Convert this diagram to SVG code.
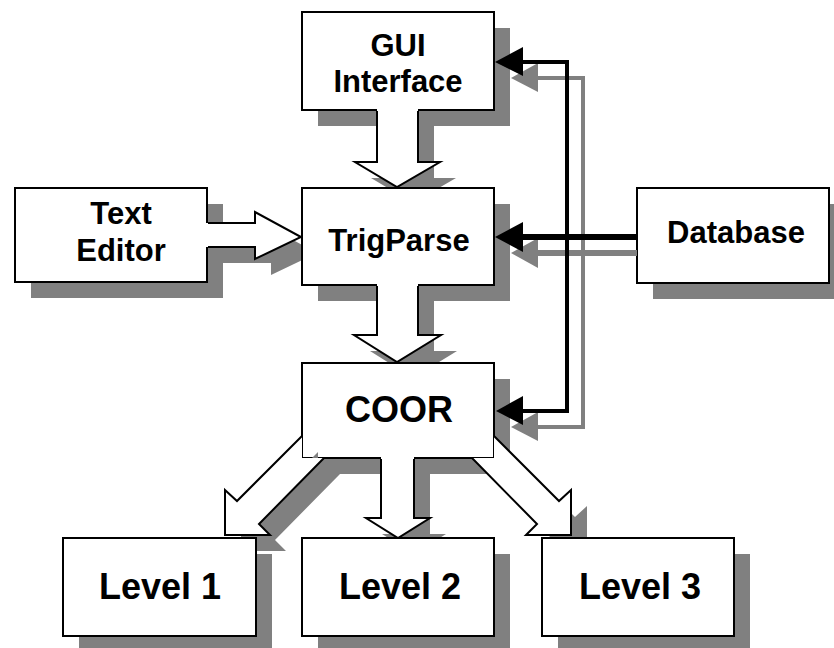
<svg xmlns="http://www.w3.org/2000/svg" width="834" height="648" viewBox="0 0 834 648">
<style>
.sh{fill:#808080;stroke:none}
.box{fill:#fff;stroke:#000;stroke-width:2}
.af{fill:#fff;stroke:none}
.ao{fill:none;stroke:#000;stroke-width:2;stroke-linejoin:miter}
.t{font-family:"Liberation Sans",Arial,sans-serif;font-weight:bold;font-size:31px;text-anchor:middle;fill:#000}
.tl{font-size:36px}
.gl{fill:none;stroke:#808080;stroke-linejoin:miter}
.bl{fill:none;stroke:#000;stroke-linejoin:miter}
</style>
<rect width="834" height="648" fill="#fff"/>

<g id="gui">
<rect class="sh" x="318" y="28" width="192" height="98"/>
<rect class="box" x="302" y="12" width="192" height="98"/>
<text class="t" x="398" y="56">GUI</text>
<text class="t" x="398" y="92">Interface</text>
</g>

<g id="texteditor">
<rect class="sh" x="31" y="204" width="192" height="94"/>
<rect class="box" x="15" y="188" width="192" height="94"/>
<text class="t" x="121" y="224">Text</text>
<text class="t" x="121" y="261">Editor</text>
</g>

<g id="database">
<rect class="sh" x="653" y="204" width="192" height="95"/>
<rect class="box" x="637" y="188" width="192" height="95"/>
<text class="t" x="736" y="243">Database</text>
</g>

<g id="arrows-top">
<polygon class="sh" points="393,126 393,178 371,178 413,203 456,178 434,178 434,126"/>
<polygon class="af" points="377,109 377,162 355,162 397,187 440,162 418,162 418,109"/>
<polyline class="ao" points="377,111 377,162 355,162 397,187 440,162 418,162 418,111"/>
<polygon class="sh" points="222,239 271,239 271,228 317,253 271,275 271,263 222,263"/>
<polygon class="af" points="206,223 255,223 255,212 301,237 255,259 255,247 206,247"/>
<polyline class="ao" points="208,223 255,223 255,212 301,237 255,259 255,247 208,247"/>
</g>

<g id="trigparse">
<rect class="sh" x="318" y="204" width="192" height="97"/>
<rect class="box" x="302" y="188" width="192" height="97"/>
<text class="t" x="399" y="251">TrigParse</text>
</g>

<g id="arrow-mid">
<polygon class="sh" points="393,300 393,351 370,351 413,378 457,351 434,351 434,300"/>
<polygon class="af" points="377,284 377,335 354,335 397,362 441,335 418,335 418,284"/>
<polyline class="ao" points="377,286 377,335 354,335 397,362 441,335 418,335 418,286"/>
</g>

<g id="coor">
<rect class="sh" x="318" y="379" width="192" height="95"/>
<rect class="box" x="302" y="363" width="192" height="95"/>
<text class="t tl" x="399" y="422">COOR</text>
</g>

<g id="arrows-bottom">
<polygon class="sh" points="318,452 253,517 241,506 241,551 286,551 275,540 340,474 318,474"/>
<polygon class="sh" points="397,473 397,534 382,534 414,554 446,534 430,534 430,473"/>
<polygon class="sh" points="510,452 575,517 587,506 587,551 542,551 553,540 488,474 510,474"/>
<polygon class="af" points="302,436 237,501 225,490 225,535 270,535 259,524 324,458 302,458"/>
<polyline class="ao" points="302,436 237,501 225,490 225,535 270,535 259,524 324,458"/>
<polygon class="af" points="381,457 381,518 366,518 398,538 430,518 414,518 414,457"/>
<polyline class="ao" points="381,459 381,518 366,518 398,538 430,518 414,518 414,459"/>
<polygon class="af" points="494,436 559,501 571,490 571,535 526,535 537,524 472,458 494,458"/>
<polyline class="ao" points="494,436 559,501 571,490 571,535 526,535 537,524 472,458"/>
</g>

<g id="level1">
<rect class="sh" x="79" y="554" width="193" height="98"/>
<rect class="box" x="63" y="538" width="193" height="98"/>
<text class="t tl" x="160" y="599">Level 1</text>
</g>
<g id="level2">
<rect class="sh" x="318" y="554" width="192" height="98"/>
<rect class="box" x="302" y="538" width="192" height="98"/>
<text class="t tl" x="400" y="599">Level 2</text>
</g>
<g id="level3">
<rect class="sh" x="558" y="554" width="192" height="98"/>
<rect class="box" x="542" y="538" width="192" height="98"/>
<text class="t tl" x="640" y="599">Level 3</text>
</g>

<g id="connectors">
<path class="gl" stroke-width="4" d="M536 78 H583 V427 H536"/>
<path class="gl" stroke-width="6" d="M637 253 H536"/>
<polygon class="sh" points="511,78 538,63 538,92"/>
<polygon class="sh" points="511,253 538,238 538,268"/>
<polygon class="sh" points="511,427 538,412 538,441"/>
<path class="bl" stroke-width="4" d="M520 62 H567 V411 H520"/>
<path class="bl" stroke-width="6" d="M637 237 H520"/>
<polygon points="495,62 523,47 523,76" fill="#000"/>
<polygon points="495,237 523,222 523,252" fill="#000"/>
<polygon points="496,411 523,396 523,425" fill="#000"/>
</g>
</svg>
